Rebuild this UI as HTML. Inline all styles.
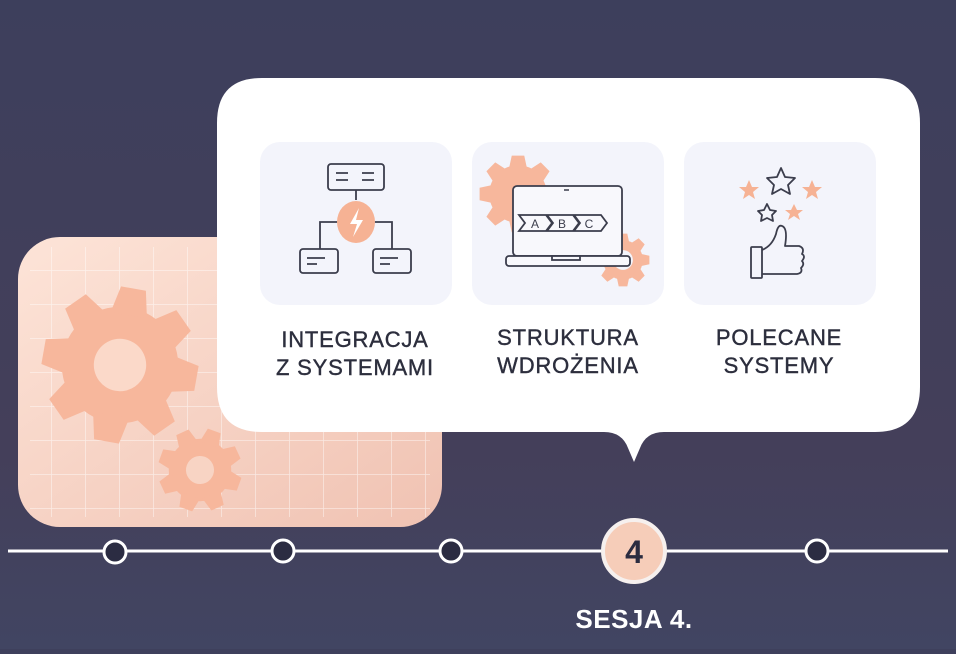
<!DOCTYPE html>
<html><head><meta charset="utf-8"><style>
body{margin:0;width:956px;height:649px;overflow:hidden;background:#3e405c;font-family:"Liberation Sans",sans-serif}
</style></head><body>
<svg width="956" height="649" viewBox="0 0 956 649" xmlns="http://www.w3.org/2000/svg">
<defs>
<linearGradient id="bg" x1="0" y1="0" x2="0" y2="1"><stop offset="0" stop-color="#3d3f5c"/><stop offset="0.7" stop-color="#443f5a"/><stop offset="1" stop-color="#414562"/></linearGradient>
<linearGradient id="pk" x1="0" y1="0" x2="1" y2="1"><stop offset="0" stop-color="#fde4d8"/><stop offset="1" stop-color="#f0c2b2"/></linearGradient>
<pattern id="grid" x="18" y="237" width="34" height="34" patternUnits="userSpaceOnUse"><path d="M34 0V34M0 34H34" stroke="#fff" stroke-opacity="0.55" stroke-width="1.5" fill="none"/></pattern>
<g id="gear">
<circle r="60" fill="#f7b79c"/>
<g fill="#f7b79c">
<path id="t" d="M-19 -52L-13 -80H13L19 -52Z"/>
<use href="#t" transform="rotate(45)"/><use href="#t" transform="rotate(90)"/><use href="#t" transform="rotate(135)"/><use href="#t" transform="rotate(180)"/><use href="#t" transform="rotate(225)"/><use href="#t" transform="rotate(270)"/><use href="#t" transform="rotate(315)"/>
</g></g>
</defs>
<rect width="956" height="649" fill="url(#bg)"/>
<rect x="18" y="237" width="424" height="290" rx="42" fill="url(#pk)"/>
<rect x="30" y="247" width="400" height="270" fill="url(#grid)"/>
<g transform="translate(120,365) scale(0.97) rotate(10)"><use href="#gear"/><circle r="27" fill="#fbd9c9"/></g>
<g transform="translate(200,470) scale(0.52) rotate(20)"><use href="#gear"/><circle r="27" fill="#f8d4c4"/></g>
<!-- white card -->
<path d="M262 78H875Q920 78 920 123V387Q920 432 875 432H664Q646 432 640 448L634 462L628 448Q622 432 604 432H262Q217 432 217 387V123Q217 78 262 78Z" fill="#fff"/>
<rect x="260" y="142" width="192" height="163" rx="20" fill="#f3f4fb"/>
<rect x="472" y="142" width="192" height="163" rx="20" fill="#f3f4fb"/>
<rect x="684" y="142" width="192" height="163" rx="20" fill="#f3f4fb"/>
<!-- icon1 -->
<g stroke="#3b3d4c" stroke-width="1.8" fill="none">
<rect x="328" y="164" width="56" height="26" rx="3"/>
<path d="M336 173h12M336 180h12M362 173h12M362 180h12"/>
<path d="M356 190v10M338 222h-18v27M374 222h18v27"/>
<rect x="300" y="249" width="38" height="24" rx="3"/><rect x="373" y="249" width="38" height="24" rx="3"/>
<path d="M307 258h18M307 264h10M380 258h18M380 264h10"/>
</g>
<ellipse cx="356" cy="222" rx="19" ry="21" fill="#f6b294"/>
<path d="M359 208l-9 16h7l-4 13 10-17h-7z" fill="#fff"/>
<!-- icon2 -->
<g transform="translate(518,194) scale(0.48)"><use href="#gear"/></g>
<g transform="translate(623,260) scale(0.33)"><use href="#gear"/><circle r="30" fill="#f3f4fb"/></g>
<g stroke="#3b3d4c" stroke-width="1.8">
<rect x="513" y="186" width="109" height="70" rx="4" fill="#f8f8fc"/>
<rect x="506" y="256" width="124" height="10" rx="3" fill="#f8f8fc"/>
<rect x="552" y="256" width="28" height="4" fill="#f8f8fc"/>
<path d="M519 215h28l6 8-6 8h-28l6-8zM546 215h28l6 8-6 8h-28l6-8zM573 215h28l6 8-6 8h-28l6-8z" fill="none"/>
</g>
<path d="M564 190h5" stroke="#3b3d4c" stroke-width="1.5"/>
<g font-size="12" fill="#3b3d4c" text-anchor="middle"><text x="535" y="228">A</text><text x="562" y="228">B</text><text x="589" y="228">C</text></g>
<!-- icon3 -->
<g fill="#f6b294">
<polygon points="749,180 752,187 759,187 753,192 755,199 749,195 743,199 745,192 739,187 746,187"/>
<polygon points="812,180 815,187 822,187 816,192 818,199 812,195 806,199 808,192 802,187 809,187"/>
<polygon points="794,204 797,210 803,210 798,214 800,220 794,216 788,220 790,214 785,210 791,210"/>
</g>
<g stroke="#3b3d4c" stroke-width="1.8" fill="none" stroke-linejoin="round">
<polygon points="781,168 785,177 795,178 788,185 790,194 781,189 772,194 774,185 767,178 777,177"/>
<polygon points="767,204 770,210 776,211 772,215 773,221 767,218 761,221 762,215 758,211 764,210"/>
<rect x="751" y="247" width="11" height="31" rx="1"/>
<path d="M762 250q10-4 14-16q2-10 6-8q6 2 3 20h14q6 2 3 8q4 2 0 7q3 3-1 7q2 5-4 6h-35"/>
</g>
<!-- labels -->
<g font-size="22" fill="#2c2e3d" stroke="#2c2e3d" stroke-width="0.4" text-anchor="middle" letter-spacing="0.8">
<text x="355" y="347">INTEGRACJA</text><text x="355" y="375">Z SYSTEMAMI</text>
<text x="568" y="345">STRUKTURA</text><text x="568" y="373">WDROŻENIA</text>
<text x="779" y="345">POLECANE</text><text x="779" y="373">SYSTEMY</text>
</g>
<!-- timeline -->
<path d="M8 551H948" stroke="#fff" stroke-width="3"/>
<g fill="#2b2c42" stroke="#fff" stroke-width="3">
<circle cx="115" cy="552" r="11"/><circle cx="283" cy="551" r="11"/><circle cx="451" cy="551" r="11"/><circle cx="817" cy="551" r="11"/>
</g>
<circle cx="634" cy="551" r="31" fill="#f6cdb9" stroke="#f6f0ee" stroke-width="4"/>
<text x="634" y="563" text-anchor="middle" font-size="32" font-weight="bold" fill="#2b2c40">4</text>
<text x="634" y="628" text-anchor="middle" font-size="26" font-weight="bold" fill="#fff" letter-spacing="0.5">SESJA 4.</text>
</svg>
</body></html>
